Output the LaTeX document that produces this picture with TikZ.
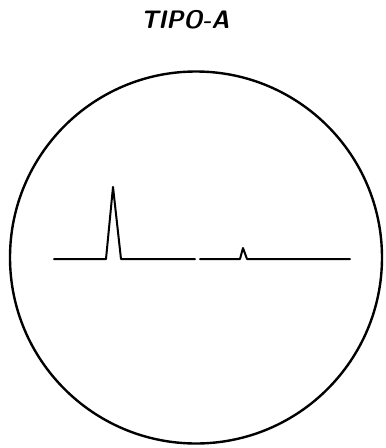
\documentclass[tikz,border=0pt]{standalone}
\begin{document}
\begin{tikzpicture}[x=1pt,y=-1pt,
  trace/.style={line width=2pt,line join=round,line cap=round},
  rim/.style={line width=2.4pt}]
\useasboundingbox (0,0) rectangle (386,448);
\node[circle,rim,draw,minimum size=372pt,inner sep=0pt] (screen) at (196,257.5) {};
\node[font=\sffamily\bfseries\slshape\fontsize{23}{23}\selectfont,inner sep=0pt,xscale=1.05,yscale=1.1] (title) at (185,20) {TIPO-A};
\coordinate (a0) at (54,259);
\coordinate (a1) at (106,259);
\coordinate (a2) at (113,187);
\coordinate (a3) at (121,259);
\coordinate (a4) at (195,259);
\coordinate (b0) at (200,259);
\coordinate (b1) at (240,259);
\coordinate (b2) at (243,248);
\coordinate (b3) at (247,259);
\coordinate (b4) at (350,259);
\draw[trace] (a0) -- (a1) -- (a2) -- (a3) -- (a4);
\draw[trace] (b0) -- (b1) -- (b2) -- (b3) -- (b4);
\end{tikzpicture}
\end{document}
